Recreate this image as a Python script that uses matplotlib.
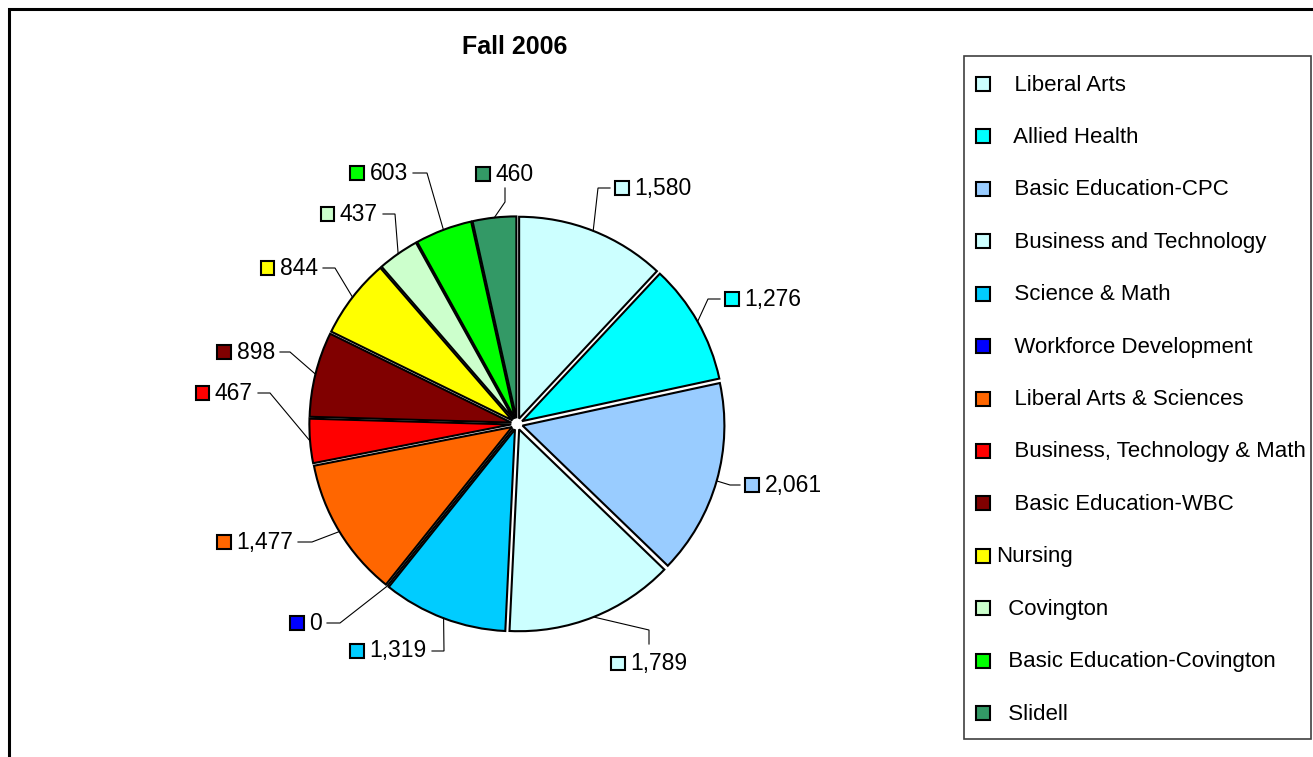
import matplotlib
matplotlib.use("Agg")
import matplotlib.pyplot as plt
import numpy as np
from matplotlib.patches import Rectangle
from matplotlib.offsetbox import HPacker, TextArea, DrawingArea, AnnotationBbox

plt.rcParams['font.family'] = ['Liberation Sans', 'DejaVu Sans']

# ---- data ----
title = "Fall 2006"
categories = ["   Liberal Arts", "   Allied Health", "   Basic Education-CPC",
              "   Business and Technology", "   Science & Math",
              "   Workforce Development", "   Liberal Arts & Sciences",
              "   Business, Technology & Math", "   Basic Education-WBC",
              "Nursing", "  Covington", "  Basic Education-Covington", "  Slidell"]
values = [1580, 1276, 2061, 1789, 1319, 0, 1477, 467, 898, 844, 437, 603, 460]
colors = ["#CCFFFF", "#00FFFF", "#99CCFF", "#CCFFFF", "#00CCFF", "#0000FF",
          "#FF6600", "#FF0000", "#800000", "#FFFF00", "#CCFFCC", "#00FF00",
          "#339966"]

# ---- layout (pixels) ----
W, H = 1313, 757
CX, CY, R = 517, 424, 207
label_elbow = [(598, 188), (708, 299), (730, 485), (649, 630), (444, 651),
               (340, 623), (312, 542), (270, 393), (290, 352), (335, 268),
               (395, 214), (427, 173), (505, 202)]
label_end = [(610, 188), (720, 299), (740, 485), (649, 644), (432, 651),
             (327, 623), (298, 542), (258, 393), (280, 352), (323, 268),
             (383, 214), (413, 173), (505, 188)]
label_side = ['right', 'right', 'right', 'below', 'left', 'left', 'left',
              'left', 'left', 'left', 'left', 'left', 'above']


def px(x, y):
    return ((x - CX) / R, (CY - y) / R)


fig = plt.figure(figsize=(W / 100, H / 100), dpi=100)
ax = fig.add_axes([0, 0, 1, 1])

EXPL = 0.028
RAD = 0.975
explode = [EXPL] * len(values)
wedges, _ = ax.pie(values, colors=colors, startangle=90, counterclock=False,
                   explode=explode, radius=RAD,
                   wedgeprops=dict(edgecolor='black', linewidth=1.5))

ax.set_xlim((0 - CX) / R, (W - CX) / R)
ax.set_ylim((CY - H) / R, CY / R)
ax.set_aspect('auto')
ax.axis('off')

total = float(sum(values))
cum = np.cumsum([0] + values)
for i, v in enumerate(values):
    mid = (cum[i] + v / 2.0) / total
    theta = np.deg2rad(90 - 360 * mid)
    r = RAD + explode[i]
    p0 = (r * np.cos(theta), r * np.sin(theta))
    pe = px(*label_elbow[i])
    pt = px(*label_end[i])
    ax.plot([p0[0], pe[0], pt[0]], [p0[1], pe[1], pt[1]], color='black', lw=0.8,
            solid_joinstyle='miter')

    da = DrawingArea(10, 10, 0, 0)
    da.add_artist(Rectangle((0, 0), 10, 10, facecolor=colors[i], edgecolor='black', lw=1.5))
    ta = TextArea(f"{v:,}", textprops=dict(fontsize=16.5, color='black'))
    box = HPacker(children=[da, ta], align='center', pad=0, sep=4)
    side = label_side[i]
    g = 5 / R
    if side == 'right':
        xy, align = (pt[0] + g, pt[1]), (0, 0.5)
    elif side == 'left':
        xy, align = (pt[0] - g, pt[1]), (1, 0.5)
    elif side == 'below':
        xy, align = (pt[0], pt[1] - 1.6 * g), (0.5, 1)
    else:
        xy, align = (pt[0], pt[1] + 0.5 * g), (0.5, 0)
    ab = AnnotationBbox(box, xy, box_alignment=align, frameon=False, pad=0)
    ax.add_artist(ab)

# title
tx, ty = px(515, 47)
ax.text(tx, ty, title, fontsize=18, fontweight='bold', ha='center', va='center')

# legend (manual)
lx0, ly0 = px(964, 739)
lx1, ly1 = px(1311, 56)
ax.add_patch(Rectangle((lx0, ly0), lx1 - lx0, ly1 - ly0, facecolor='white',
                       edgecolor='#404040', lw=1.2, zorder=3))
ys = np.linspace(83, 712, len(categories))
sq = 14 / R
for i, (name, c) in enumerate(zip(categories, colors)):
    sx, sy = px(976, ys[i] + 1)
    ax.add_patch(Rectangle((sx, sy - sq / 2), sq, sq, facecolor=c, edgecolor='black',
                           lw=1.5, zorder=4))
    tx, ty = px(996, ys[i] + 2)
    ax.text(tx, ty, name, fontsize=16, ha='left', va='center', zorder=4)

# outer chart border (extends beyond the image on right/bottom)
fig.patches.append(Rectangle((9 / W, -0.1), 1.2, 1 - 9 / H + 0.1,
                             transform=fig.transFigure, fill=False,
                             edgecolor='black', lw=2.2))

fig.savefig("out.png", dpi=100)
